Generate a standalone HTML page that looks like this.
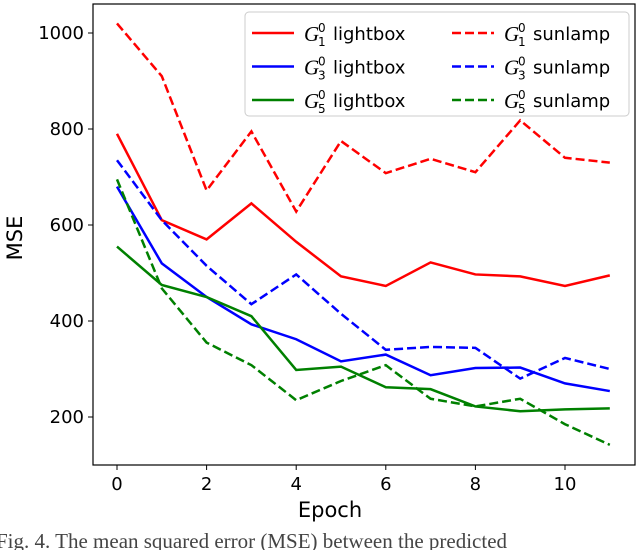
<!DOCTYPE html>
<html><head><meta charset="utf-8"><style>
body{margin:0;background:#fff;width:640px;height:550px;overflow:hidden;font-family:"Liberation Sans","DejaVu Sans",sans-serif}
svg text{font-family:"DejaVu Sans","Liberation Sans",sans-serif}
</style></head><body>
<svg id="chart" width="640" height="550">
<g id="plot"></g>
<text x="330" y="517" font-size="21" text-anchor="middle" fill="#000">Epoch</text>
<text transform="translate(22,238) rotate(-90)" font-size="21" text-anchor="middle" fill="#000">MSE</text>
<text x="-4" y="548" font-size="21" font-family="Liberation Serif,serif" fill="#444" style="font-family:'Liberation Serif',serif">Fig. 4.  The mean squared error (MSE) between the predicted</text>
</svg>
<script>
const epochs=[0,1,2,3,4,5,6,7,8,9,10,11];
const g1Lightbox=[790,610,570,645,565,493,473,522,497,493,473,495];
const g1Sunlamp=[1020,910,672,795,628,775,708,738,710,818,740,730];
const g3Lightbox=[680,520,450,393,362,316,330,287,302,303,270,254];
const g3Sunlamp=[735,610,515,435,497,415,340,346,344,280,323,300];
const g5Lightbox=[555,475,450,410,298,305,262,258,222,212,216,218];
const g5Sunlamp=[695,468,355,308,235,275,308,238,222,238,185,142];
const xTicks=[0,2,4,6,8,10];
const yTicks=[200,400,600,800,1000];
const legendLabels=["lightbox","sunlamp"];
const legendSubs=["1","3","5"];

const NS="http://www.w3.org/2000/svg";
const X=v=>117+v*44.8;
const Y=v=>33+(1000-v)*0.48;
const L=93,R=635,T=4,B=465;
const plot=document.getElementById('plot');
function mk(t,a,p){const e=document.createElementNS(NS,t);for(const k in a)e.setAttribute(k,a[k]);(p||plot).appendChild(e);return e;}

const frame=mk('rect',{x:L,y:T,width:R-L,height:B-T,fill:'none',stroke:'#000','stroke-width':1.2});



xTicks.forEach(v=>{
  const t=mk('line',{x1:X(v),x2:X(v),y1:B,y2:B+5,stroke:'#000'});
  
  
  const l=mk('text',{x:X(v),y:B+25,'font-size':18,'text-anchor':'middle'});l.textContent=v;
  
  
});
yTicks.forEach(v=>{
  const t=mk('line',{x1:L-5,x2:L,y1:Y(v),y2:Y(v),stroke:'#000'});
  
  
  const l=mk('text',{x:L-9,y:Y(v)+6,'font-size':18,'text-anchor':'end'});l.textContent=v;
  
  
});

const series=[
 [g1Lightbox,'#ff0000',false,'g1-lightbox-line'],
 [g3Lightbox,'#0000ff',false,'g3-lightbox-line'],
 [g5Lightbox,'#008000',false,'g5-lightbox-line'],
 [g1Sunlamp,'#ff0000',true,'g1-sunlamp-line'],
 [g3Sunlamp,'#0000ff',true,'g3-sunlamp-line'],
 [g5Sunlamp,'#008000',true,'g5-sunlamp-line']];
series.forEach(s=>{
  const pts=s[0].map((v,i)=>X(epochs[i])+','+Y(v)).join(' ');
  const a={points:pts,fill:'none',stroke:s[1],'stroke-width':2.5};
  if(s[2])a['stroke-dasharray']='9,4';
  const p=mk('polyline',a);
  
  
});

// legend
const lg=mk('g',{});


mk('rect',{x:245,y:12,width:384,height:104,rx:4,fill:'#fff','fill-opacity':0.85,stroke:'#ccc'},lg);
const cols=['#ff0000','#0000ff','#008000'];
for(let c=0;c<2;c++)for(let r=0;r<3;r++){
  const x0=c?452:252,y0=33+r*33.5;
  const e=mk('g',{},lg);
  
  
  const ln={x1:x0,x2:x0+42,y1:y0,y2:y0,stroke:cols[r],'stroke-width':2.5};
  if(c)ln['stroke-dasharray']='9,4';
  mk('line',ln,e);
  const g=mk('text',{x:x0+52,y:y0+8,'font-size':21,'font-style':'italic',style:"font-family:'Liberation Serif',serif"},e);g.textContent='G';
  const sp=mk('text',{x:x0+66,y:y0-1,'font-size':12},e);sp.textContent='0';
  const sb=mk('text',{x:x0+66,y:y0+13,'font-size':12},e);sb.textContent=legendSubs[r];
  const t=mk('text',{x:x0+81,y:y0+7,'font-size':18},e);t.textContent=legendLabels[c];
}
</script>
</body></html>
